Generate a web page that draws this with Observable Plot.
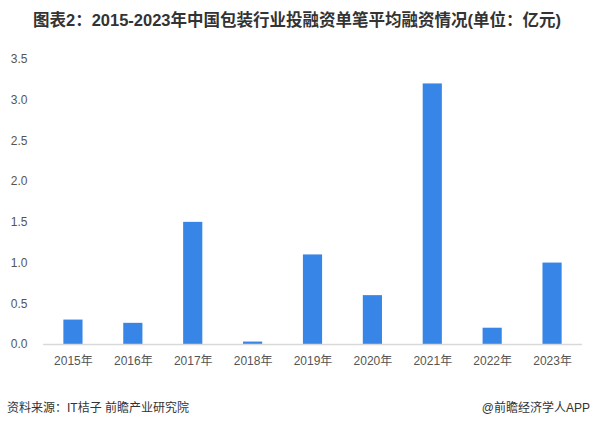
<!DOCTYPE html>
<html><head><meta charset="utf-8">
<script src="https://cdn.jsdelivr.net/npm/d3@7"></script>
<script src="https://cdn.jsdelivr.net/npm/@observablehq/plot@0.6"></script>
<style>
body{margin:0;background:#fff;width:594px;height:426px;overflow:hidden;font-family:"Liberation Sans","Noto Sans CJK SC",sans-serif;}
#title{height:40px;line-height:40px;text-align:center;font-weight:bold;font-size:16.5px;color:#333;white-space:nowrap;}
#footer{position:absolute;top:398px;left:0;width:594px;font-size:12px;color:#333;}
#footer .l{position:absolute;left:7px;}
#footer .r{position:absolute;right:4px;}
svg{display:block}
</style></head>
<body>
<div id="title">图表2：2015-2023年中国包装行业投融资单笔平均融资情况(单位：亿元)</div>
<div id="chart"></div>
<div id="footer"><span class="l">资料来源：IT桔子 前瞻产业研究院</span><span class="r">@前瞻经济学人APP</span></div>
<script>
const years = ["2015年","2016年","2017年","2018年","2019年","2020年","2021年","2022年","2023年"];
const values = [0.3, 0.26, 1.5, 0.03, 1.1, 0.6, 3.2, 0.2, 1.0];
const yTicks = [0, 0.5, 1.0, 1.5, 2.0, 2.5, 3.0, 3.5];
const data = years.map((y, i) => ({year: y, value: values[i]}));
const chart = Plot.plot({
  width: 594, height: 345,
  marginTop: 19, marginBottom: 41, marginLeft: 43, marginRight: 12,
  style: {fontFamily: "'Liberation Sans','Noto Sans CJK SC',sans-serif", fontSize: "12px", color: "#555", background: "#fff"},
  x: {domain: years, paddingInner: 0.68, paddingOuter: 0.34, round: false, label: null, tickSize: 0, tickPadding: 12},
  y: {domain: [0, 3.5], ticks: yTicks, tickFormat: d3.format(".1f"), label: null, tickSize: 0, tickPadding: 16},
  marks: [
    Plot.barY(data, {x: "year", y: "value", fill: "#3785E6"}),
    Plot.ruleY([0], {stroke: "#d9d9d9", strokeWidth: 1.5})
  ]
});
document.getElementById("chart").appendChild(chart);
</script>
</body></html>
